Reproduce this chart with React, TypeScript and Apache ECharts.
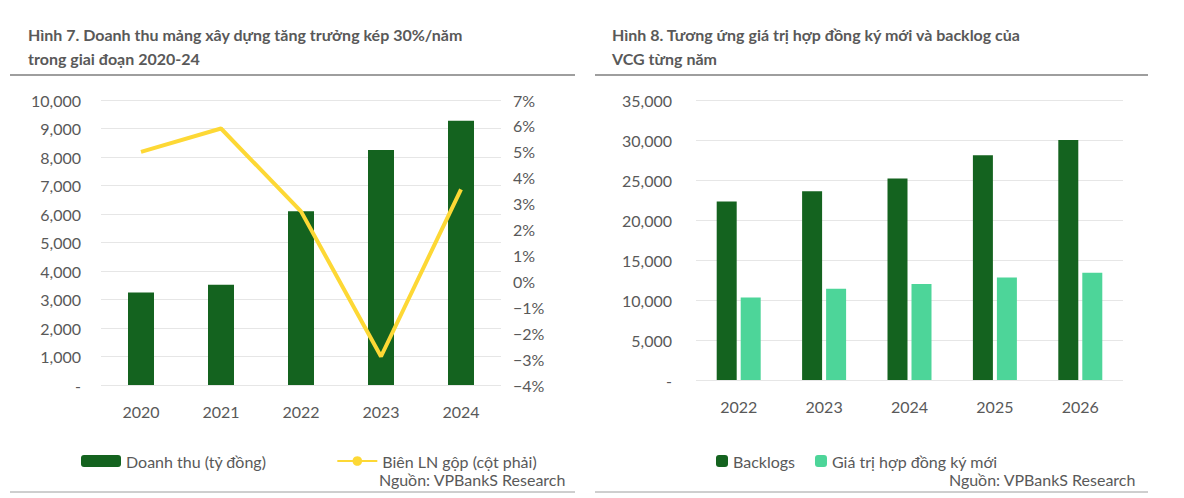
import React, { useEffect, useRef } from "react";
import * as echarts from "echarts";

const years1 = ["2020", "2021", "2022", "2023", "2024"];
const revenue = [3250, 3520, 6100, 8250, 9270];
const margin = [5.0, 5.9, 2.7, -2.9, 3.55];
const years2 = ["2022", "2023", "2024", "2025", "2026"];
const backlogs = [22300, 23600, 25200, 28100, 30000];
const newContracts = [10300, 11400, 12000, 12800, 13400];

const DARK = "#14631f";
const LIGHT = "#4dd599";
const YELLOW = "#fdd835";
const TXT = "#595959";
const FONT = "Lato, 'Noto Sans', sans-serif";

const fmt = (v: number) => (v === 0 ? "-" : v.toLocaleString("en-US"));

export default function App() {
  const ref = useRef<HTMLDivElement>(null);
  useEffect(() => {
    const chart = echarts.init(ref.current!, null, { renderer: "svg" });
    const lbl = { color: TXT, fontSize: 16, fontFamily: FONT };
    const title = (x: number, lines: string[]) =>
      lines.map((t, i) => ({
        type: "text", left: x, top: 18 + i * 24,
        style: { text: t, fill: TXT, font: `bold 16px ${FONT}` },
      }));
    chart.setOption({
      animation: false,
      textStyle: { fontFamily: FONT },
      grid: [
        { left: 93, width: 400, top: 92, height: 285 },
        { left: 688, width: 427, top: 92, height: 280 },
      ],
      xAxis: [
        { type: "category", gridIndex: 0, data: years1, axisTick: { show: false }, axisLine: { show: false }, axisLabel: { ...lbl, margin: 18 } },
        { type: "category", gridIndex: 1, data: years2, axisTick: { show: false }, axisLine: { show: false }, axisLabel: { ...lbl, margin: 18 } },
      ],
      yAxis: [
        { type: "value", gridIndex: 0, min: 0, max: 10000, interval: 1000, axisLabel: { ...lbl, formatter: fmt, margin: 20 }, splitLine: { lineStyle: { color: "#e6e6e6" } } },
        { type: "value", gridIndex: 0, min: -4, max: 7, interval: 1, position: "right", axisLabel: { ...lbl, formatter: (v: number) => (v < 0 ? "\u2212" + -v : v) + "%", margin: 12 }, splitLine: { show: false } },
        { type: "value", gridIndex: 1, min: 0, max: 35000, interval: 5000, axisLabel: { ...lbl, formatter: fmt, margin: 24 }, splitLine: { lineStyle: { color: "#e6e6e6" } } },
      ],
      legend: [
        { left: 68, top: 440, itemWidth: 40, itemHeight: 12, itemGap: 70, textStyle: lbl, data: ["Doanh thu (tỷ đồng)", "Biên LN gộp (cột phải)"] },
        { left: 703, top: 440, itemWidth: 12, itemHeight: 12, itemGap: 20, textStyle: lbl, data: ["Backlogs", "Giá trị hợp đồng ký mới"] },
      ],
      series: [
        { name: "Doanh thu (tỷ đồng)", type: "bar", xAxisIndex: 0, yAxisIndex: 0, data: revenue, barWidth: 26, itemStyle: { color: DARK } },
        { name: "Biên LN gộp (cột phải)", type: "line", xAxisIndex: 0, yAxisIndex: 1, data: margin, symbol: "none", lineStyle: { color: YELLOW, width: 4 }, itemStyle: { color: YELLOW } },
        { name: "Backlogs", type: "bar", xAxisIndex: 1, yAxisIndex: 2, data: backlogs, barWidth: 20, barGap: "20%", itemStyle: { color: DARK } },
        { name: "Giá trị hợp đồng ký mới", type: "bar", xAxisIndex: 1, yAxisIndex: 2, data: newContracts, barWidth: 20, barGap: "20%", itemStyle: { color: LIGHT } },
      ],
      graphic: [
        ...title(20, ["Hình 7. Doanh thu mảng xây dựng tăng trưởng kép 30%/năm", "trong giai đoạn 2020-24"]),
        ...title(604, ["Hình 8. Tương ứng giá trị hợp đồng ký mới và backlog của", "VCG từng năm"]),
        { type: "line", shape: { x1: 2, y1: 67, x2: 567, y2: 67 }, style: { stroke: "#9e9e9e", lineWidth: 2 } },
        { type: "line", shape: { x1: 587, y1: 67, x2: 1140, y2: 67 }, style: { stroke: "#9e9e9e", lineWidth: 2 } },
        { type: "line", shape: { x1: 2, y1: 484, x2: 567, y2: 484 }, style: { stroke: "#9e9e9e", lineWidth: 1 } },
        { type: "line", shape: { x1: 587, y1: 484, x2: 1140, y2: 484 }, style: { stroke: "#9e9e9e", lineWidth: 1 } },
        { type: "text", right: 610, top: 463, style: { text: "Nguồn: VPBankS Research", fill: TXT, font: `16px ${FONT}` } },
        { type: "text", right: 40, top: 463, style: { text: "Nguồn: VPBankS Research", fill: TXT, font: `16px ${FONT}` } },
      ],
    });
    return () => chart.dispose();
  }, []);
  return <div ref={ref} style={{ width: 1168, height: 490 }} />;
}
